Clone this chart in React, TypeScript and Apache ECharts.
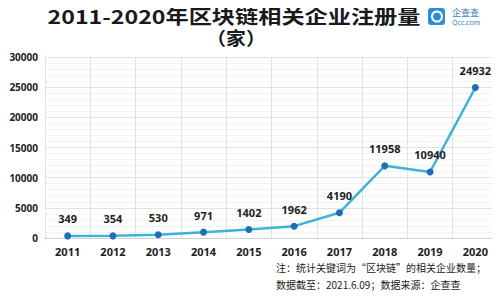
import React, { useEffect, useRef } from "react";
import * as echarts from "echarts";

const years = ["2011", "2012", "2013", "2014", "2015", "2016", "2017", "2018", "2019", "2020"];
const counts = [349, 354, 530, 971, 1402, 1962, 4190, 11958, 10940, 24932];
const titleText = "2011-2020年区块链相关企业注册量";
const unitText = "（家）";
const noteLines = ["注：统计关键词为“区块链”的相关企业数量；", "数据截至：2021.6.09；数据来源：企查查"];

export default function App() {
  const ref = useRef<HTMLDivElement>(null);
  useEffect(() => {
    const chart = echarts.init(ref.current!, null, { renderer: "svg" });
    chart.setOption({
      animation: false,
      backgroundColor: "#ffffff",
      textStyle: { fontFamily: "Noto Sans CJK SC, Noto Sans, sans-serif" },
      grid: { left: 45, right: 2, top: 57, bottom: 62 },
      graphic: [
        {
          type: "text",
          x: 234,
          y: 6,
          scaleX: 1.22,
          style: {
            text: titleText,
            font: "bold 19px 'Noto Sans CJK SC'",
            fill: "#1a1a1a",
            textAlign: "center",
            textVerticalAlign: "top",
          },
        },
        {
          type: "text",
          x: 236,
          y: 28,
          scaleX: 1.1,
          style: {
            text: unitText,
            font: "bold 18px 'Noto Sans CJK SC'",
            fill: "#1a1a1a",
            textAlign: "center",
            textVerticalAlign: "top",
          },
        },
        {
          type: "rect",
          shape: { x: 428, y: 8, width: 17, height: 17, r: 3 },
          style: { fill: "#2a8fd8" },
        },
        {
          type: "circle",
          shape: { cx: 437, cy: 16.5, r: 5 },
          style: { fill: "none", stroke: "#ffffff", lineWidth: 2 },
        },
        {
          type: "text",
          x: 452,
          y: 8,
          style: { text: "企查查", font: "9px 'Noto Sans CJK SC'", fill: "#3a7fc0" },
        },
        {
          type: "text",
          x: 452,
          y: 19,
          style: { text: "Qcc.com", font: "7px 'Noto Sans'", fill: "#3a7fc0" },
        },
        {
          type: "text",
          x: 276,
          y: 262,
          style: { text: noteLines[0], font: "10px 'Noto Sans CJK SC'", fill: "#222" },
        },
        {
          type: "text",
          x: 276,
          y: 279,
          style: { text: noteLines[1], font: "10px 'Noto Sans CJK SC'", fill: "#222" },
        },
      ],
      xAxis: {
        type: "category",
        data: years,
        boundaryGap: true,
        axisLine: { show: true, lineStyle: { color: "#d0d0d0" } },
        axisTick: { show: false },
        axisLabel: { color: "#222", fontSize: 11, fontWeight: "bold", margin: 8, fontFamily: "Noto Sans" },
        splitLine: { show: true, lineStyle: { color: "#e2e2e2" } },
      },
      yAxis: {
        type: "value",
        min: 0,
        max: 30000,
        interval: 5000,
        axisLine: { show: false },
        axisTick: { show: false },
        axisLabel: {
          color: "#222",
          fontSize: 10,
          fontWeight: "bold",
          margin: 7,
          fontFamily: "Noto Sans",
          formatter: (v: number) => String(v),
        },
        splitLine: { show: true, lineStyle: { color: "#e2e2e2" } },
        minorTick: { show: false, splitNumber: 5 },
        minorSplitLine: { show: true, lineStyle: { color: "#f2f2f2" } },
      },
      series: [
        {
          type: "line",
          data: counts,
          symbol: "circle",
          symbolSize: 7,
          lineStyle: { color: "#3db3d9", width: 2.5 },
          itemStyle: { color: "#1f6db5" },
          label: {
            show: true,
            position: "top",
            distance: 8,
            color: "#222",
            fontSize: 11,
            fontWeight: "bold",
            fontFamily: "Noto Sans",
          },
        },
      ],
    });
    return () => chart.dispose();
  }, []);
  return <div ref={ref} style={{ width: 500, height: 300, margin: -8 }} />;
}
